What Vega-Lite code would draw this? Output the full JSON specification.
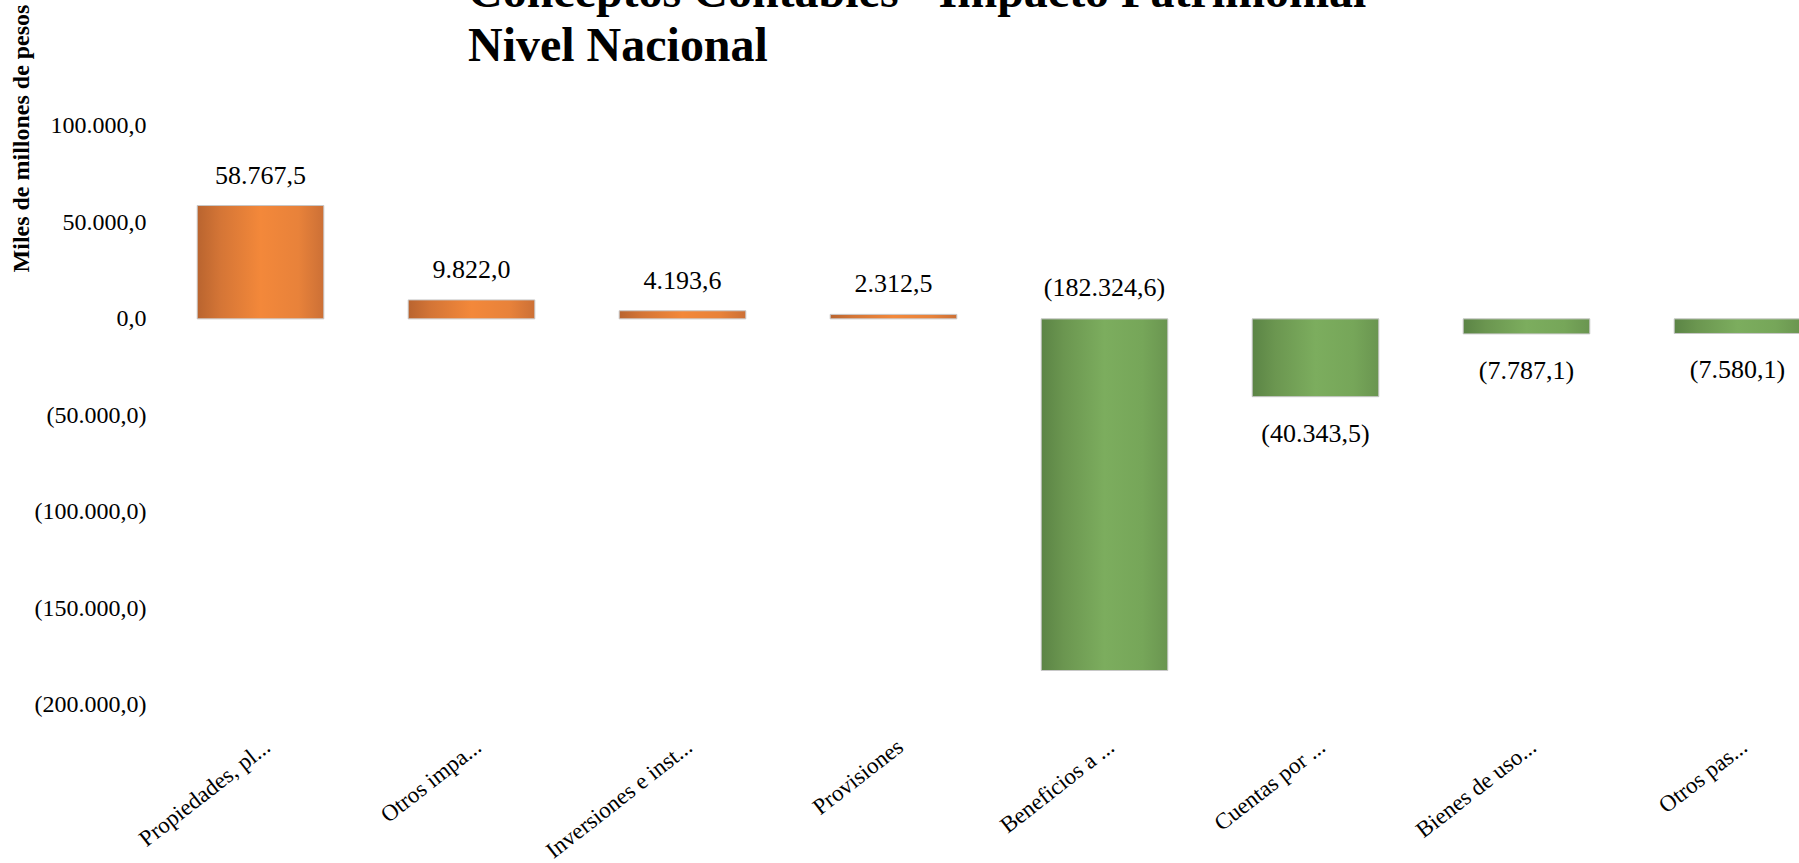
{
  "$schema": "https://vega.github.io/schema/vega-lite/v6.json",
  "autosize": {"type": "none"},
  "width": 1644,
  "height": 578.6,
  "padding": {"left": 155, "top": 126, "right": 0, "bottom": 158},
  "background": "white",
  "config": {
    "view": {"stroke": null},
    "locale": {"number": {"decimal": ",", "thousands": ".", "grouping": [3], "currency": ["$", ""]}}
  },
  "title": {
    "text": ["Conceptos Contables - Impacto Patrimonial", "Nivel Nacional"],
    "anchor": "start",
    "frame": "group",
    "font": "Liberation Serif",
    "fontSize": 48,
    "fontWeight": "bold",
    "color": "black",
    "lineHeight": 54,
    "dx": 313,
    "dy": 67,
    "offset": 0
  },
  "data": {
    "values": [
      {"concepto": "Propiedades, pl...", "value": 58767.5},
      {"concepto": "Otros impa...", "value": 9822.0},
      {"concepto": "Inversiones e inst...", "value": 4193.6},
      {"concepto": "Provisiones", "value": 2312.5},
      {"concepto": "Beneficios a ...", "value": -182324.6},
      {"concepto": "Cuentas por ...", "value": -40343.5},
      {"concepto": "Bienes de uso...", "value": -7787.1},
      {"concepto": "Otros pas...", "value": -7580.1}
    ]
  },
  "encoding": {
    "x": {
      "field": "concepto",
      "type": "nominal",
      "sort": null,
      "scale": {"range": [0, 1688], "paddingInner": 0.4, "paddingOuter": 0.2},
      "axis": {
        "title": null,
        "domain": false,
        "ticks": false,
        "grid": false,
        "labelAngle": -38,
        "labelAlign": "right",
        "labelBaseline": "middle",
        "labelFont": "Liberation Serif",
        "labelFontSize": 23,
        "labelColor": "black",
        "labelPadding": 39,
        "labelOffset": 7,
        "labelLimit": 0
      }
    }
  },
  "layer": [
    {
      "mark": {"type": "bar", "stroke": "#c8c8c8", "strokeWidth": 1},
      "encoding": {
        "y": {
          "field": "value",
          "type": "quantitative",
          "scale": {"domain": [-200000, 100000], "nice": false, "zero": true},
          "axis": {
            "values": [-200000, -150000, -100000, -50000, 0, 50000, 100000],
            "format": "(,.1f",
            "domain": false,
            "ticks": false,
            "grid": false,
            "labelOverlap": false,
            "labelFont": "Liberation Serif",
            "labelFontSize": 24,
            "labelColor": "black",
            "labelPadding": 9,
            "title": "Miles de millones de pesos",
            "titleFont": "Liberation Serif",
            "titleFontSize": 24,
            "titleFontWeight": "bold",
            "titleColor": "black",
            "titleAngle": -90,
            "titleX": -134,
            "titleY": 12,
            "titleAlign": "center",
            "titleBaseline": "middle"
          }
        },
        "fill": {
          "condition": {
            "test": "datum.value >= 0",
            "value": {
              "gradient": "linear", "x1": 0, "x2": 1, "y1": 0, "y2": 0,
              "stops": [
                {"offset": 0, "color": "#b9642f"},
                {"offset": 0.18, "color": "#d47536"},
                {"offset": 0.5, "color": "#f3883a"},
                {"offset": 0.8, "color": "#e8823a"},
                {"offset": 1, "color": "#cc7036"}
              ]
            }
          },
          "value": {
            "gradient": "linear", "x1": 0, "x2": 1, "y1": 0, "y2": 0,
            "stops": [
              {"offset": 0, "color": "#5b8445"},
              {"offset": 0.18, "color": "#6b9650"},
              {"offset": 0.5, "color": "#7cad5e"},
              {"offset": 0.8, "color": "#76a659"},
              {"offset": 1, "color": "#6a9550"}
            ]
          }
        }
      }
    },
    {
      "transform": [{"filter": "datum.value > 0"}],
      "mark": {"type": "text", "baseline": "alphabetic", "dy": -22, "font": "Liberation Serif", "fontSize": 26, "color": "black"},
      "encoding": {
        "y": {"field": "value", "type": "quantitative"},
        "text": {"field": "value", "type": "quantitative", "format": "(,.1f"}
      }
    },
    {
      "transform": [{"filter": "datum.value < 0 && datum.value > -100000"}],
      "mark": {"type": "text", "baseline": "alphabetic", "dy": 45, "font": "Liberation Serif", "fontSize": 26, "color": "black"},
      "encoding": {
        "y": {"field": "value", "type": "quantitative"},
        "text": {"field": "value", "type": "quantitative", "format": "(,.1f"}
      }
    },
    {
      "transform": [{"filter": "datum.value <= -100000"}],
      "mark": {"type": "text", "baseline": "alphabetic", "dy": -23, "font": "Liberation Serif", "fontSize": 26, "color": "black"},
      "encoding": {
        "y": {"datum": 0, "type": "quantitative"},
        "text": {"field": "value", "type": "quantitative", "format": "(,.1f"}
      }
    }
  ]
}
